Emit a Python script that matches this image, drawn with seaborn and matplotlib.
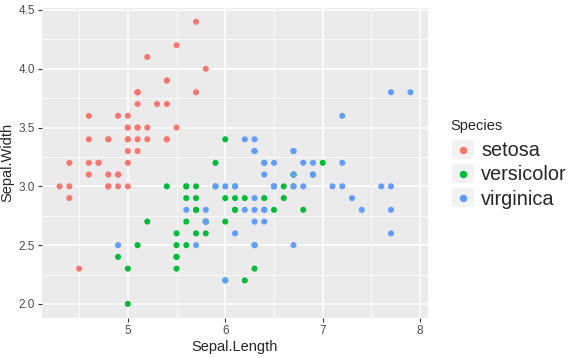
import matplotlib
matplotlib.use("Agg")
import matplotlib.pyplot as plt
from matplotlib.lines import Line2D
from matplotlib.patches import Rectangle
from matplotlib.legend_handler import HandlerBase
from matplotlib.ticker import MultipleLocator
import pandas as pd
import seaborn as sns

# iris - sepal length / width per species
setosa_len = [5.1,4.9,4.7,4.6,5.0,5.4,4.6,5.0,4.4,4.9,5.4,4.8,4.8,4.3,5.8,5.7,5.4,5.1,5.7,5.1,
              5.4,5.1,4.6,5.1,4.8,5.0,5.0,5.2,5.2,4.7,4.8,5.4,5.2,5.5,4.9,5.0,5.5,4.9,4.4,5.1,
              5.0,4.5,4.4,5.0,5.1,4.8,5.1,4.6,5.3,5.0]
setosa_wid = [3.5,3.0,3.2,3.1,3.6,3.9,3.4,3.4,2.9,3.1,3.7,3.4,3.0,3.0,4.0,4.4,3.9,3.5,3.8,3.8,
              3.4,3.7,3.6,3.3,3.4,3.0,3.4,3.5,3.4,3.2,3.1,3.4,4.1,4.2,3.1,3.2,3.5,3.6,3.0,3.4,
              3.5,2.3,3.2,3.5,3.8,3.0,3.8,3.2,3.7,3.3]
versi_len = [7.0,6.4,6.9,5.5,6.5,5.7,6.3,4.9,6.6,5.2,5.0,5.9,6.0,6.1,5.6,6.7,5.6,5.8,6.2,5.6,
             5.9,6.1,6.3,6.1,6.4,6.6,6.8,6.7,6.0,5.7,5.5,5.5,5.8,6.0,5.4,6.0,6.7,6.3,5.6,5.5,
             5.5,6.1,5.8,5.0,5.6,5.7,5.7,6.2,5.1,5.7]
versi_wid = [3.2,3.2,3.1,2.3,2.8,2.8,3.3,2.4,2.9,2.7,2.0,3.0,2.2,2.9,2.9,3.1,3.0,2.7,2.2,2.5,
             3.2,2.8,2.5,2.8,2.9,3.0,2.8,3.0,2.9,2.6,2.4,2.4,2.7,2.7,3.0,3.4,3.1,2.3,3.0,2.5,
             2.6,3.0,2.6,2.3,2.7,3.0,2.9,2.9,2.5,2.8]
virg_len = [6.3,5.8,7.1,6.3,6.5,7.6,4.9,7.3,6.7,7.2,6.5,6.4,6.8,5.7,5.8,6.4,6.5,7.7,7.7,6.0,
            6.9,5.6,7.7,6.3,6.7,7.2,6.2,6.1,6.4,7.2,7.4,7.9,6.4,6.3,6.1,7.7,6.3,6.4,6.0,6.9,
            6.7,6.9,5.8,6.8,6.7,6.7,6.3,6.5,6.2,5.9]
virg_wid = [3.3,2.7,3.0,2.9,3.0,3.0,2.5,2.9,2.5,3.6,3.2,2.7,3.0,2.5,2.8,3.2,3.0,3.8,2.6,2.2,
            3.2,2.8,2.8,2.7,3.3,3.2,2.8,3.0,2.8,3.0,2.8,3.8,2.8,2.8,2.6,3.0,3.4,3.1,3.0,3.1,
            3.1,3.1,2.7,3.2,3.3,3.0,2.5,3.0,3.4,3.0]
species = ["setosa", "versicolor", "virginica"]
colors = ["#F8766D", "#00BA38", "#619CFF"]

iris = pd.DataFrame({
    "Sepal.Length": setosa_len + versi_len + virg_len,
    "Sepal.Width": setosa_wid + versi_wid + virg_wid,
    "Species": ["setosa"] * 50 + ["versicolor"] * 50 + ["virginica"] * 50,
})


# ggplot-like legend key: grey square with a dot in the middle
class KeyHandler(HandlerBase):
    def create_artists(self, legend, orig_handle, xdescent, ydescent, width, height, fontsize, trans):
        bg = Rectangle((-xdescent, -ydescent), width, height, facecolor="#F2F2F2",
                       edgecolor="none", transform=trans)
        dot = Line2D([width / 2 - xdescent], [height / 2 - ydescent], marker="o",
                     markersize=4.4, color=orig_handle.get_color(), linestyle="",
                     transform=trans)
        return [bg, dot]


sns.set_style("darkgrid", {"axes.facecolor": "#EBEBEB", "grid.color": "white"})
plt.rcParams["font.family"] = ["Liberation Sans", "DejaVu Sans"]

fig = plt.figure(figsize=(5.71, 3.58), dpi=100)
ax = fig.add_axes([0.0736, 0.1117, 0.676, 0.867])

sns.scatterplot(data=iris, x="Sepal.Length", y="Sepal.Width", hue="Species",
                hue_order=species, palette=colors, s=19, linewidth=0, legend=False, ax=ax)

ax.set_xlim(4.12, 8.08)
ax.set_ylim(1.88, 4.52)
ax.xaxis.set_major_locator(MultipleLocator(1))
ax.yaxis.set_major_locator(MultipleLocator(0.5))
ax.xaxis.set_minor_locator(MultipleLocator(0.5))
ax.yaxis.set_minor_locator(MultipleLocator(0.25))
ax.yaxis.set_major_formatter(matplotlib.ticker.FormatStrFormatter("%.1f"))
ax.grid(which="major", color="white", linewidth=1.1)
ax.grid(which="minor", color="white", linewidth=0.55)
for s in ax.spines.values():
    s.set_visible(False)
ax.tick_params(which="major", length=3, width=0.8, color="#333333",
               labelcolor="#4D4D4D", labelsize=8.5, pad=2, bottom=True, left=True)
ax.tick_params(which="minor", length=0)
ax.set_xlabel("Sepal.Length", fontsize=10.5, labelpad=2)
ax.set_ylabel("Sepal.Width", fontsize=10.5, labelpad=3)

# legend: title as separate text, keys below it
fig.text(0.788, 1 - 126 / 358, "Species", fontsize=10.5, va="center", ha="left")
handles = [Line2D([], [], color=c) for c in colors]
leg = fig.legend(handles, species, loc="upper left",
                 bbox_to_anchor=(0.7916, 0.609), frameon=False, fontsize=14.3,
                 handler_map={Line2D: KeyHandler()},
                 handlelength=1.11, handleheight=1.11, handletextpad=0.35,
                 labelspacing=0.19, borderpad=0, borderaxespad=0)

fig.savefig("out.png", dpi=100)
